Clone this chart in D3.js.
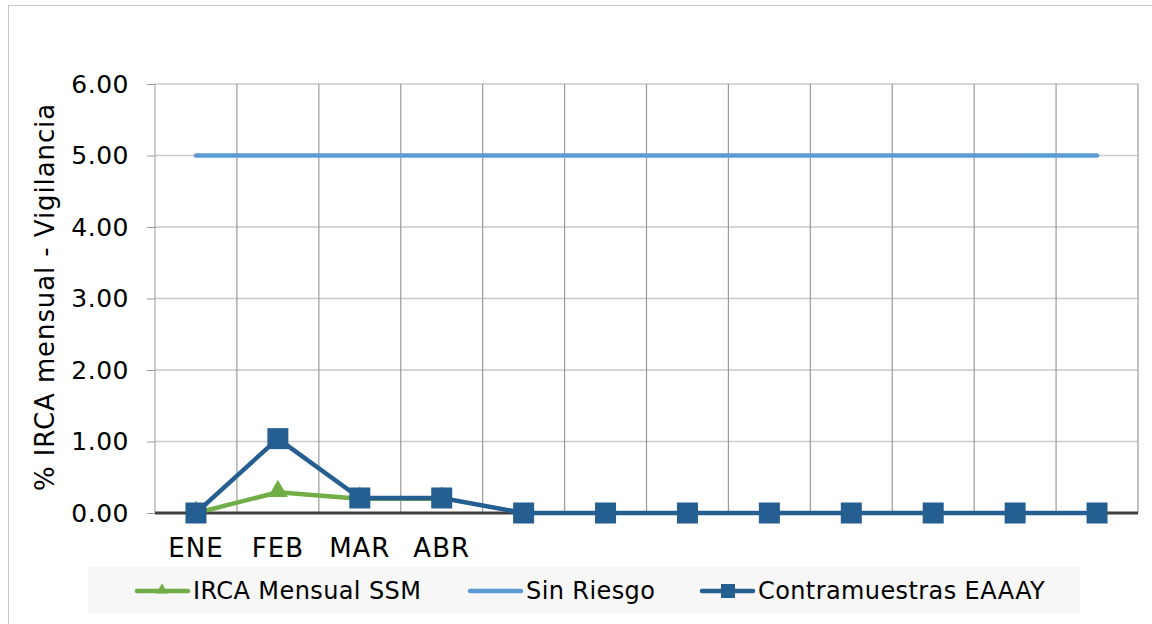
<!DOCTYPE html>
<html>
<head>
<meta charset="utf-8">
<script src="https://cdn.jsdelivr.net/npm/d3@7"></script>
<style>
  body { margin: 0; background: #fff; }
  text { font-family: "DejaVu Sans", Verdana, sans-serif; fill: #000; }
</style>
</head>
<body>
<svg id="chart" width="1152" height="624"></svg>
<script>
// chart data
var months = ["ENE", "FEB", "MAR", "ABR", "MAY", "JUN", "JUL", "AGO", "SEP", "OCT", "NOV", "DIC"];
var monthLabels = ["ENE", "FEB", "MAR", "ABR", "", "", "", "", "", "", "", ""];
var ircaSSM = [0, 0.29, 0.20, 0.20];
var sinRiesgo = [5, 5, 5, 5, 5, 5, 5, 5, 5, 5, 5, 5];
var contramuestras = [0, 1.04, 0.21, 0.21, 0, 0, 0, 0, 0, 0, 0, 0];
var yTicks = [0, 1, 2, 3, 4, 5, 6];

var svg = d3.select("#chart");
var plotLeft = 155, plotRight = 1138, plotTop = 84, plotBottom = 513;

// outer frame
svg.append("rect").attr("x", 8.5).attr("y", 5.5).attr("width", 1150).attr("height", 630)
  .attr("fill", "none").attr("stroke", "#c8c8c8");

var x = d3.scaleBand().domain(months).range([plotLeft, plotRight]).padding(0);
var y = d3.scaleLinear().domain([0, 6]).range([plotBottom, plotTop]);
var cx = function(i) { return x(months[i]) + x.bandwidth() / 2; };

// horizontal grid
svg.append("g").selectAll("line").data(yTicks.slice(1)).enter().append("line")
  .attr("x1", plotLeft).attr("x2", plotRight).attr("y1", function(d) { return y(d); }).attr("y2", function(d) { return y(d); })
  .attr("stroke", "#c9c9c9").attr("stroke-width", 1.5);

// vertical grid at category boundaries
svg.append("g").selectAll("line").data(months.slice(1).concat(["end"])).enter().append("line")
  .attr("x1", function(d) { return d == "end" ? plotRight : x(d); })
  .attr("x2", function(d) { return d == "end" ? plotRight : x(d); })
  .attr("y1", plotTop).attr("y2", plotBottom)
  .attr("stroke", "#9a9a9a").attr("stroke-width", 1.2);

// y axis
var yAxis = d3.axisLeft(y).tickValues(yTicks).tickFormat(d3.format(".2f")).tickSize(8).tickPadding(18);
var ya = svg.append("g").attr("transform", "translate(" + plotLeft + ",0)").call(yAxis);
ya.select(".domain").attr("stroke", "#9a9a9a").attr("d", "M0," + plotTop + "V" + plotBottom);
ya.selectAll(".tick line").attr("stroke", "#9a9a9a").attr("x1", 0).attr("x2", -8);
ya.selectAll(".tick text").attr("font-size", 25).attr("font-family", "DejaVu Sans").attr("fill", "#000")
  .attr("letter-spacing", 0.5);

// x axis
var xAxis = d3.axisBottom(x).tickFormat(function(d, i) { return monthLabels[i]; }).tickSize(0).tickPadding(26);
var xa = svg.append("g").attr("transform", "translate(0," + plotBottom + ")").call(xAxis);
xa.select(".domain").remove();
xa.selectAll(".tick text").attr("font-size", 26).attr("font-family", "DejaVu Sans").attr("fill", "#000")
  .attr("letter-spacing", 1);
svg.append("line").attr("x1", plotLeft).attr("x2", plotRight).attr("y1", plotBottom).attr("y2", plotBottom)
  .attr("stroke", "#404040").attr("stroke-width", 3);

// y title
svg.append("text").attr("transform", "translate(54," + 297 + ") rotate(-90)")
  .attr("text-anchor", "middle").attr("font-size", 26).attr("letter-spacing", 0.9)
  .text("% IRCA mensual - Vigilancia");

var line = d3.line().x(function(d, i) { return cx(i); }).y(function(d) { return y(d); });

// Sin Riesgo
svg.append("path").datum(sinRiesgo).attr("d", line).attr("fill", "none")
  .attr("stroke", "#5b9bd5").attr("stroke-width", 4.5).attr("stroke-linecap", "round");

// IRCA Mensual SSM
svg.append("path").datum(ircaSSM).attr("d", line).attr("fill", "none")
  .attr("stroke", "#70ad47").attr("stroke-width", 4.5).attr("stroke-linejoin", "round");
var tri = d3.symbol().type(d3.symbolTriangle).size(170);
svg.append("g").selectAll("path").data(ircaSSM).enter().append("path")
  .attr("d", tri).attr("fill", "#70ad47")
  .attr("transform", function(d, i) { return "translate(" + cx(i) + "," + (y(d) - 1) + ")"; });

// Contramuestras EAAAY
svg.append("path").datum(contramuestras).attr("d", line).attr("fill", "none")
  .attr("stroke", "#255e91").attr("stroke-width", 4.5).attr("stroke-linejoin", "round");
svg.append("g").selectAll("rect").data(contramuestras).enter().append("rect")
  .attr("x", function(d, i) { return cx(i) - 10.5; }).attr("y", function(d) { return y(d) - 10.5; })
  .attr("width", 21).attr("height", 21).attr("fill", "#255e91");

// legend
var lg = svg.append("g");
lg.append("rect").attr("x", 88).attr("y", 567).attr("width", 992).attr("height", 46).attr("fill", "#f7f7f7");
var legendY = 591;
var items = [
  { name: "IRCA Mensual SSM", color: "#70ad47", x: 137, marker: "tri" },
  { name: "Sin Riesgo", color: "#5b9bd5", x: 470, marker: null },
  { name: "Contramuestras EAAAY", color: "#255e91", x: 702, marker: "sq" }
];
items.forEach(function(it) {
  lg.append("line").attr("x1", it.x).attr("x2", it.x + 51).attr("y1", legendY).attr("y2", legendY)
    .attr("stroke", it.color).attr("stroke-width", 4.5).attr("stroke-linecap", "round");
  if (it.marker == "tri") {
    lg.append("path").attr("d", d3.symbol().type(d3.symbolTriangle).size(60))
      .attr("fill", it.color).attr("transform", "translate(" + (it.x + 25) + "," + (legendY - 1) + ")");
  } else if (it.marker == "sq") {
    lg.append("rect").attr("x", it.x + 19).attr("y", legendY - 7).attr("width", 14).attr("height", 14).attr("fill", it.color);
  }
  lg.append("text").attr("x", it.x + 56).attr("y", legendY).attr("dy", "0.35em")
    .attr("font-size", 24).attr("letter-spacing", 0.4).text(it.name);
});
</script>
</body>
</html>
